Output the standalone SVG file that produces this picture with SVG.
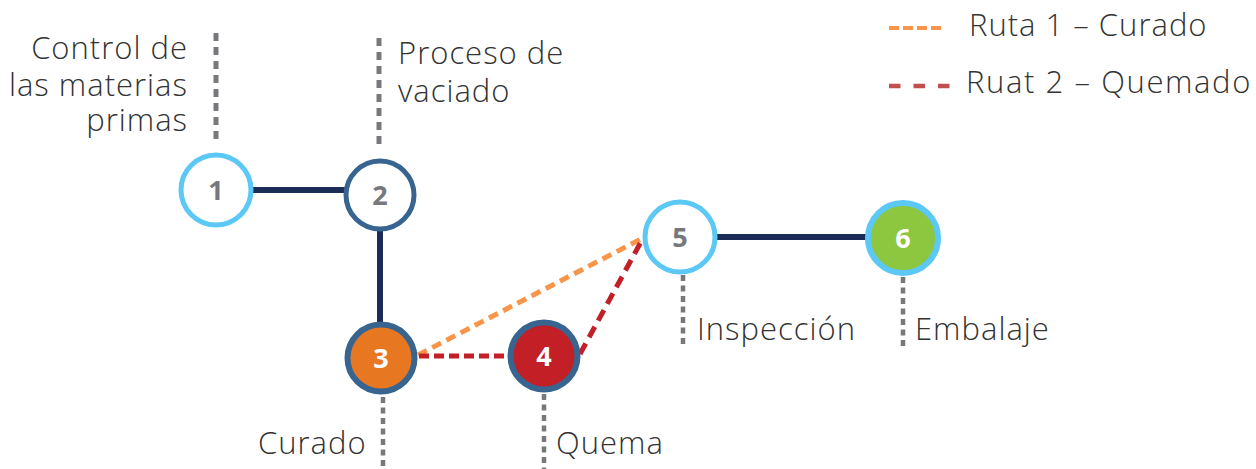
<svg xmlns="http://www.w3.org/2000/svg" width="1256" height="469" viewBox="0 0 1256 469">
<style>
.lbl{font-family:"Open Sans","Liberation Sans",sans-serif;font-weight:300;font-size:31px;fill:#333333;letter-spacing:1px}
.num{font-family:"Open Sans","Liberation Sans",sans-serif;font-weight:700;font-size:27px;text-anchor:middle}
.g{fill:#77787B}
.w{fill:#FFFFFF}
.lead{stroke:#77787B;stroke-width:5;fill:none;stroke-dasharray:8 6}
.leadb{stroke:#77787B;stroke-width:4.5;fill:none;stroke-dasharray:6 4.5}
.solid{stroke:#1B2D57;stroke-width:6;fill:none}
</style>
<rect width="1256" height="469" fill="#FFFFFF"/>
<g id="legend">
<line x1="889" y1="28" x2="945" y2="28" stroke="#F7964A" stroke-width="4" stroke-dasharray="10 4"/>
<text class="lbl" x="969" y="36">Ruta 1 – Curado</text>
<line x1="889" y1="86" x2="953" y2="86" stroke="#C0504D" stroke-width="4.5" stroke-dasharray="11.5 13"/>
<text class="lbl" x="966" y="93" style="letter-spacing:1.6px">Ruat 2 – Quemado</text>
</g>
<g id="connectors">
<line class="solid" x1="253" y1="190" x2="346" y2="190"/>
<line class="solid" x1="380" y1="229" x2="380" y2="322"/>
<line class="solid" x1="717" y1="237" x2="866" y2="237"/>
<line x1="418" y1="355" x2="641" y2="239" stroke="#F7964A" stroke-width="5" stroke-dasharray="10 6"/>
<line x1="419" y1="356" x2="508" y2="356" stroke="#C31F26" stroke-width="5" stroke-dasharray="10 5"/>
<line x1="580" y1="354" x2="642" y2="240" stroke="#C31F26" stroke-width="5" stroke-dasharray="12 7"/>
<line class="lead" x1="216" y1="33" x2="216" y2="145"/>
<line class="lead" x1="379" y1="38" x2="379" y2="148"/>
<line class="leadb" x1="683" y1="275" x2="683" y2="348"/>
<line class="leadb" x1="903" y1="277" x2="903" y2="346"/>
<line class="leadb" x1="383" y1="397" x2="383" y2="469"/>
<line class="leadb" x1="544" y1="394" x2="544" y2="469"/>
</g>
<g id="node1">
<circle cx="216" cy="190" r="35" fill="#FFFFFF" stroke="#5BC8F5" stroke-width="5"/>
<text class="num g" x="216" y="200">1</text>
<text class="lbl" text-anchor="end"><tspan x="188" y="59">Control de</tspan><tspan x="188" y="96">las materias</tspan><tspan x="188" y="131">primas</tspan></text>
</g>
<g id="node2">
<circle cx="380" cy="195" r="34" fill="#FFFFFF" stroke="#386490" stroke-width="5"/>
<text class="num g" x="380" y="205">2</text>
<text class="lbl"><tspan x="398" y="64">Proceso de</tspan><tspan x="398" y="102">vaciado</tspan></text>
</g>
<g id="node3">
<circle cx="381" cy="358" r="33.5" fill="#E87722" stroke="#386490" stroke-width="6"/>
<text class="num w" x="381" y="368">3</text>
<text class="lbl" x="258" y="454">Curado</text>
</g>
<g id="node4">
<circle cx="544" cy="356" r="33.5" fill="#C31F26" stroke="#386490" stroke-width="6"/>
<text class="num w" x="544" y="366">4</text>
<text class="lbl" x="556" y="454">Quema</text>
</g>
<g id="node5">
<circle cx="680" cy="237" r="35" fill="#FFFFFF" stroke="#5BC8F5" stroke-width="5"/>
<text class="num g" x="680" y="247">5</text>
<text class="lbl" x="697" y="340">Inspección</text>
</g>
<g id="node6">
<circle cx="903" cy="238" r="35" fill="#8DC63F" stroke="#5BC8F5" stroke-width="6"/>
<text class="num w" x="903" y="248">6</text>
<text class="lbl" x="915" y="340">Embalaje</text>
</g>
</svg>
